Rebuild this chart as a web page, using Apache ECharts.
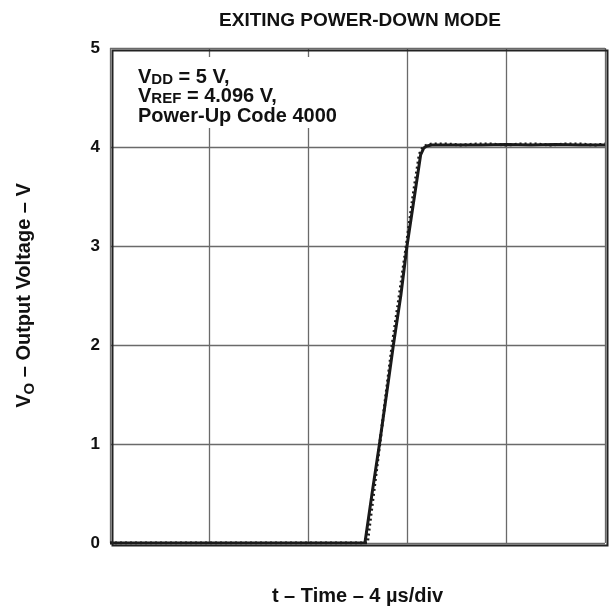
<!DOCTYPE html>
<html><head><meta charset="utf-8">
<script src="https://cdn.jsdelivr.net/npm/echarts@6/dist/echarts.min.js"></script>
<style>html,body{margin:0;padding:0;background:#fff}#c{width:610px;height:613px}</style>
</head><body><div id="c"></div>
<script>
// time in µs (4 µs/div, 5 divisions)
const solidT = [0, 10.3, 10.6, 10.9, 11.2, 11.45, 11.75, 12.0, 12.3, 12.55, 12.68, 12.8, 13.0, 14, 15, 16, 17, 18, 19, 20];
const solidV = [0, 0, 0.52, 1.02, 1.55, 2.0, 2.5, 3.0, 3.5, 3.92, 3.99, 4.01, 4.02, 4.02, 4.02, 4.025, 4.02, 4.025, 4.02, 4.02];
const dotT = [0, 10.4, 10.65, 10.9, 11.15, 11.4, 11.7, 11.98, 12.25, 12.5, 12.65, 12.8, 13.0, 13.6, 14.2, 14.8, 15.4, 16.0, 16.6, 17.2, 17.8, 18.4, 19.0, 19.6, 20];
const dotV = [0, 0, 0.5, 1.0, 1.5, 2.0, 2.52, 3.02, 3.52, 3.93, 4.0, 4.02, 4.03, 4.03, 4.02, 4.03, 4.03, 4.02, 4.03, 4.03, 4.02, 4.03, 4.03, 4.02, 4.03];
const yTicks = [0, 1, 2, 3, 4, 5];

const chart = echarts.init(document.getElementById('c'));
const F = 'Liberation Sans, Arial, sans-serif';
chart.setOption({
  animation: false,
  title: {
    text: 'EXITING POWER-DOWN MODE', left: 355, top: 6, textAlign: 'center',
    textStyle: {fontFamily: F, fontSize: 19, fontWeight: 'bold', color: '#111'}
  },
  grid: {left: 110, right: 5, top: 48, bottom: 70},
  xAxis: {
    type: 'value', min: 0, max: 20, interval: 4,
    axisLine: {show: false}, axisTick: {show: false}, axisLabel: {show: false},
    splitLine: {show: true, lineStyle: {color: '#6a6a6a', width: 1.3}},
    name: 't – Time – 4 µs/div', nameLocation: 'middle', nameGap: 43,
    nameTextStyle: {fontFamily: F, fontSize: 20, fontWeight: 'bold', color: '#111'}
  },
  yAxis: {
    type: 'value', min: 0, max: 5, interval: 1,
    axisLine: {show: false}, axisTick: {show: false},
    axisLabel: {fontFamily: F, fontSize: 17, fontWeight: 'bold', color: '#111', margin: 10,
      formatter: v => yTicks.includes(v) ? String(v) : ''},
    splitLine: {show: true, lineStyle: {color: '#6a6a6a', width: 1.3}},
    name: '{m|V}{s|O}{m| – Output Voltage – V}', nameLocation: 'middle', nameGap: 73, nameRotate: 90,
    nameTextStyle: {fontFamily: F, fontSize: 20, fontWeight: 'bold', color: '#111',
      rich: {
        m: {fontFamily: F, fontSize: 20, fontWeight: 'bold', color: '#111', lineHeight: 26, verticalAlign: 'middle'},
        s: {fontFamily: F, fontSize: 15, fontWeight: 'bold', color: '#111', lineHeight: 26, verticalAlign: 'bottom', padding: [8, 0, 0, 0]}
      }}
  },
  graphic: [
    {type: 'rect', left: 110, top: 48, shape: {width: 495, height: 495}, z: 100,
      style: {fill: 'none', stroke: '#222', lineWidth: 2}},
    {type: 'rect', left: 128, top: 57, shape: {width: 226, height: 71}, z: 50,
      style: {fill: '#fff'}},
    {type: 'text', left: 138, top: 64, z: 60,
      style: {
        text: '{m|V}{s|DD}{m| = 5 V,}\n{m|V}{s|REF}{m| = 4.096 V,}\n{m|Power-Up Code 4000}',
        fontFamily: F, fontWeight: 'bold', fill: '#111',
        rich: {
          m: {fontFamily: F, fontSize: 20, fontWeight: 'bold', fill: '#111', lineHeight: 19.5, verticalAlign: 'middle'},
          s: {fontFamily: F, fontSize: 15, fontWeight: 'bold', fill: '#111', lineHeight: 19.5, verticalAlign: 'bottom', padding: [8, 0, 0, 0]}
        }
      }}
  ],
  series: [
    {type: 'line', data: solidT.map((t, i) => [t, solidV[i]]), showSymbol: false, z: 3,
      lineStyle: {color: '#1a1a1a', width: 3}},
    {type: 'line', data: dotT.map((t, i) => [t, dotV[i]]), showSymbol: false, z: 4,
      lineStyle: {color: '#1a1a1a', width: 3, type: [2, 3]}}
  ]
});
</script></body></html>
